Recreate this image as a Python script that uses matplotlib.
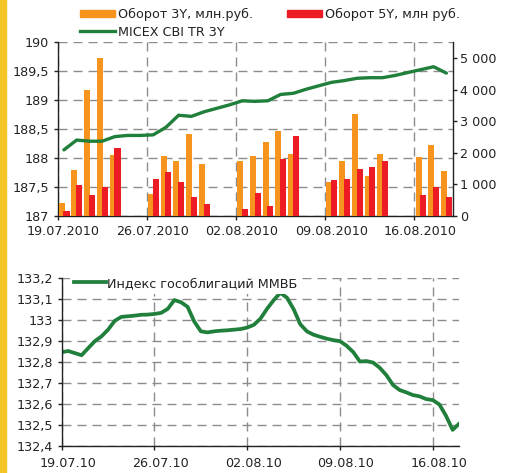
import numpy as np
import pandas as pd
import matplotlib
matplotlib.use("Agg")
import matplotlib.pyplot as plt
from matplotlib.patches import Rectangle, Patch
from matplotlib.lines import Line2D
from matplotlib.ticker import FuncFormatter, MultipleLocator
from matplotlib.transforms import ScaledTranslation

plt.rcParams['font.family'] = ['DejaVu Sans']
plt.rcParams['font.size'] = 9.2
plt.rcParams['lines.scale_dashes'] = False

# --- data ---
# торговые дни (оборот, млн руб.)
trade_dates = ['19.07.2010', '20.07.2010', '21.07.2010', '22.07.2010', '23.07.2010',
               '26.07.2010', '27.07.2010', '28.07.2010', '29.07.2010', '30.07.2010',
               '02.08.2010', '03.08.2010', '04.08.2010', '05.08.2010', '06.08.2010',
               '09.08.2010', '10.08.2010', '11.08.2010', '12.08.2010', '13.08.2010',
               '16.08.2010', '17.08.2010', '18.08.2010']
turnover_3y = [400, 1460, 3990, 5000, 1940,
               690, 1900, 1745, 2605, 1650,
               1745, 1905, 2350, 2700, 1970,
               1085, 1745, 3215, 1265, 1970,
               1870, 2255, 1425]
turnover_5y = [150, 980, 660, 915, 2160,
               1170, 1395, 1075, 595, 370,
               215, 725, 310, 1810, 2545,
               1140, 1170, 1490, 1555, 1745,
               660, 915, 595]

# MICEX CBI TR 3Y, по календарным дням 19.07.2010 - 18.08.2010
micex_cbi = [188.14, 188.31, 188.29, 188.29, 188.37, 188.39, 188.39,
             188.40, 188.53, 188.74, 188.72, 188.80, 188.86, 188.92,
             188.99, 188.98, 188.99, 189.10, 189.12, 189.19, 189.25,
             189.31, 189.34, 189.38, 189.39, 189.39, 189.43, 189.48,
             189.53, 189.58, 189.47]

# Индекс гособлигаций ММВБ, отсчеты каждые 12 часов 19.07.2010 00:00 - 18.08.2010 00:00
bond_index = [132.848, 132.853, 132.843, 132.833, 132.867, 132.900, 132.923, 132.955,
              132.997, 133.016, 133.019, 133.022, 133.026, 133.027, 133.030, 133.035,
              133.054, 133.096, 133.086, 133.064, 132.994, 132.947, 132.942, 132.947,
              132.950, 132.952, 132.955, 132.958, 132.965, 132.978, 133.008, 133.055,
              133.096, 133.131, 133.107, 133.053, 132.981, 132.947, 132.931, 132.921,
              132.912, 132.905, 132.900, 132.878, 132.848, 132.803, 132.805, 132.798,
              132.773, 132.738, 132.691, 132.667, 132.656, 132.643, 132.637, 132.624,
              132.619, 132.598, 132.544, 132.477, 132.507]
bond_times = pd.date_range('2010-07-19', '2010-08-18', freq='12h')

# --- styles ---
ORANGE = '#F7941D'
RED = '#ED1C24'
GREEN = '#1F7F3B'
GRID = '#8C8C8C'
TEXT = '#222222'
DASH = (0, (6.5, 4.3))

plt.rcParams['text.color'] = TEXT
plt.rcParams['xtick.color'] = TEXT
plt.rcParams['ytick.color'] = TEXT

fig = plt.figure(figsize=(5.15, 4.73), dpi=100, facecolor='white')
fig.patches.append(Rectangle((0, 0), 6 / 515, 1, transform=fig.transFigure,
                             color='#F5C426', zorder=0))

label_shift = ScaledTranslation(0.06, 0, fig.dpi_scale_trans)

# --- верхний график ---
start = pd.Timestamp('2010-07-19')
n_days = len(micex_cbi)
day_pos = np.array([(d - start).days for d in pd.to_datetime(trade_dates, format='%d.%m.%Y')])
calendar = pd.date_range(start, periods=n_days, freq='D')

ax = fig.add_axes([0.1117, 0.544, 0.7674, 0.3662])
ax2 = ax.twinx()

ax.set_xlim(0, n_days)
ax.set_ylim(187, 190)

ax2.bar(day_pos + 0.32, turnover_3y, width=0.48, color=ORANGE, zorder=2)
ax2.bar(day_pos + 0.70, turnover_5y, width=0.48, color=RED, zorder=3)
# линия индекса поверх столбцов, но в координатах левой оси
ax2.plot(np.arange(n_days) + 0.5, micex_cbi, color=GREEN, lw=2.4,
         solid_joinstyle='round', solid_capstyle='round', zorder=4,
         transform=ax.transData)
ax2.set_ylim(0, 5500)
ax2.set_xlim(0, n_days)

week_ticks = np.arange(0, n_days, 7)
ax.set_xticks(week_ticks)
ax.set_xticklabels([calendar[i].strftime('%d.%m.%Y') for i in week_ticks])
ax.yaxis.set_major_locator(MultipleLocator(0.5))
ax.yaxis.set_major_formatter(FuncFormatter(lambda v, p: f"{v:g}".replace('.', ',')))
ax2.yaxis.set_major_locator(MultipleLocator(1000))
ax2.yaxis.set_major_formatter(FuncFormatter(lambda v, p: f"{int(v):,}".replace(',', ' ')))

ax.grid(True, linestyle=DASH, color=GRID, linewidth=1.0)
ax.set_axisbelow(True)

for s in ['top', 'right']:
    ax.spines[s].set_visible(False)
for s in ['top', 'left', 'bottom']:
    ax2.spines[s].set_visible(False)
for sp in list(ax.spines.values()) + list(ax2.spines.values()):
    sp.set_color(TEXT)
    sp.set_linewidth(1.0)

ax.tick_params(axis='y', direction='out', length=3, width=1, pad=3)
ax.tick_params(axis='x', direction='out', length=3, width=1, pad=4)
ax2.tick_params(axis='y', direction='out', length=3, width=1, pad=2)
for lbl in ax.get_xticklabels():
    lbl.set_transform(lbl.get_transform() + label_shift)

handles = [Patch(color=ORANGE), Line2D([], [], color=GREEN, lw=2.4), Patch(color=RED)]
labels = ['Оборот 3Y, млн.руб.', 'MICEX CBI TR 3Y', 'Оборот 5Y, млн руб.']
fig.legend(handles, labels, ncol=2, loc='upper left', bbox_to_anchor=(0.1553, 0.983),
           frameon=False, borderpad=0, borderaxespad=0, handlelength=2.75,
           handleheight=0.55, handletextpad=0.2, columnspacing=2.7, labelspacing=0.35)

# --- нижний график ---
bx = fig.add_axes([0.1198, 0.0571, 0.772, 0.3545])
bx.plot(bond_times, bond_index, color=GREEN, lw=2.7, solid_joinstyle='round',
        label='Индекс гособлигаций ММВБ')
bx.set_xlim(pd.Timestamp('2010-07-19'), pd.Timestamp('2010-08-18'))
bx.set_ylim(132.4, 133.2)
bx.yaxis.set_major_locator(MultipleLocator(0.1))
bx.yaxis.set_major_formatter(FuncFormatter(lambda v, p: f"{round(v, 1):g}".replace('.', ',')))
mondays = pd.date_range('2010-07-19', '2010-08-18', freq='W-MON')
bx.set_xticks(mondays)
bx.set_xticklabels([d.strftime('%d.%m.%y') for d in mondays])
bx.grid(True, linestyle=DASH, color=GRID, linewidth=1.0)
bx.set_axisbelow(True)
for s in ['top', 'right']:
    bx.spines[s].set_visible(False)
for s in ['left', 'bottom']:
    bx.spines[s].set_color(TEXT)
    bx.spines[s].set_linewidth(1.0)
bx.tick_params(axis='y', direction='out', length=3, width=1, pad=3)
bx.tick_params(axis='x', direction='out', length=3, width=1, pad=5)
for lbl in bx.get_xticklabels():
    lbl.set_transform(lbl.get_transform() + label_shift)

leg = bx.legend(loc='upper left', bbox_to_anchor=(0.021, 1.032), borderaxespad=0,
                frameon=True, fancybox=False, framealpha=1, facecolor='white',
                edgecolor='white', borderpad=0.3, handlelength=2.5, handletextpad=0.1)
leg.get_frame().set_linewidth(0)

fig.savefig('out.png', dpi=100, facecolor='white')
